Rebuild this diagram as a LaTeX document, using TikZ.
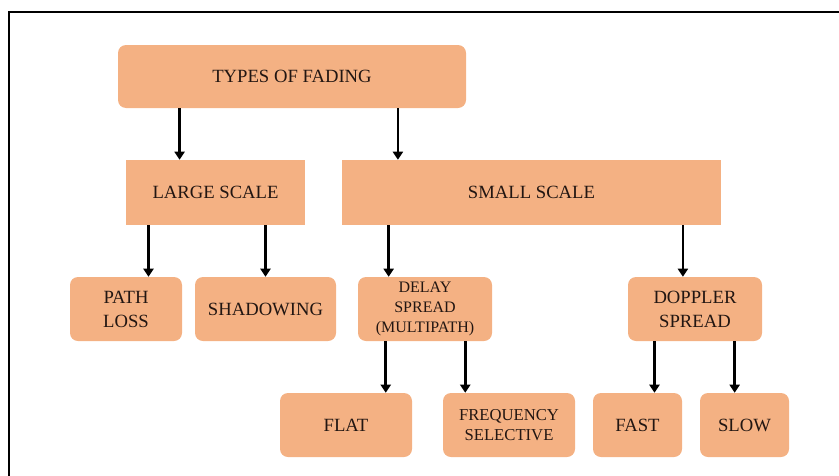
\documentclass[tikz,border=0pt]{standalone}
\usepackage{fontspec}
\setmainfont{Liberation Serif}
\usetikzlibrary{arrows.meta,calc}
\definecolor{boxfill}{HTML}{F4B183}
\definecolor{boxtext}{RGB}{34,22,18}

\begin{document}
\begin{tikzpicture}[x=0.75pt, y=-0.75pt,
    box/.style={fill=boxfill, rounded corners=6pt, inner sep=0pt, align=center, text=boxtext, font=\rmfamily\fontsize{14}{18}\selectfont},
    flatbox/.style={box, sharp corners},
    arr/.style={-{Triangle[length=6pt,width=7.5pt]}, line width=2pt}
]
\useasboundingbox (0,0) rectangle (839,475);
\clip (0,0) rectangle (839,475);
\draw[line width=1.5pt] (9,12) rectangle (860,500);

\node[box, minimum width=261pt, minimum height=47.25pt] (types) at (292,76.5) {TYPES OF FADING};

\node[flatbox, minimum width=134.25pt, minimum height=48.75pt] (large) at (215.5,192.5) {LARGE SCALE};
\node[flatbox, minimum width=284.25pt, minimum height=48.75pt] (small) at (531.5,192.5) {SMALL SCALE};

\node[box, minimum width=84pt, minimum height=48pt] (pathloss) at (126,309) {PATH\\LOSS};
\node[box, minimum width=105.75pt, minimum height=48pt] (shadow) at (265.5,309) {SHADOWING};
\node[box, minimum width=100.5pt, minimum height=48pt, font=\rmfamily\fontsize{12}{15}\selectfont] (delay) at (425,309) {DELAY\\SPREAD\\(MULTIPATH)};
\node[box, minimum width=100.5pt, minimum height=48pt] (doppler) at (695,309) {DOPPLER\\SPREAD};

\node[box, minimum width=99pt, minimum height=48pt] (flat) at (346,425) {FLAT};
\node[box, minimum width=99pt, minimum height=48pt, font=\rmfamily\fontsize{12.5}{14.5}\selectfont] (freq) at (509,425) {FREQUENCY\\SELECTIVE};
\node[box, minimum width=66.75pt, minimum height=48pt] (fast) at (637.5,425) {FAST};
\node[box, minimum width=66.75pt, minimum height=48pt] (slow) at (744.5,425) {SLOW};

% arrow heads on the top edge of each child
\coordinate (inlarge) at ($(large.north west)!.30!(large.north east)$);
\coordinate (insmall) at ($(small.north west)!.148!(small.north east)$);
\coordinate (inpath) at ($(pathloss.north west)!.70!(pathloss.north east)$);
\coordinate (inshadow) at (shadow.north);
\coordinate (indelay) at ($(delay.north west)!.23!(delay.north east)$);
\coordinate (indoppler) at ($(doppler.north west)!.41!(doppler.north east)$);
\coordinate (inflat) at ($(flat.north west)!.80!(flat.north east)$);
\coordinate (infreq) at ($(freq.north west)!.17!(freq.north east)$);
\coordinate (infast) at ($(fast.north west)!.69!(fast.north east)$);
\coordinate (inslow) at ($(slow.north west)!.39!(slow.north east)$);

\draw[arr] (types.south -| inlarge) -- (inlarge);
\draw[arr] (types.south -| insmall) -- (insmall);
\draw[arr] (large.south -| inpath) -- (inpath);
\draw[arr] (large.south -| inshadow) -- (inshadow);
\draw[arr] (small.south -| indelay) -- (indelay);
\draw[arr] (small.south -| indoppler) -- (indoppler);
\draw[arr] (delay.south -| inflat) -- (inflat);
\draw[arr] (delay.south -| infreq) -- (infreq);
\draw[arr] (doppler.south -| infast) -- (infast);
\draw[arr] (doppler.south -| inslow) -- (inslow);
\end{tikzpicture}
\end{document}
